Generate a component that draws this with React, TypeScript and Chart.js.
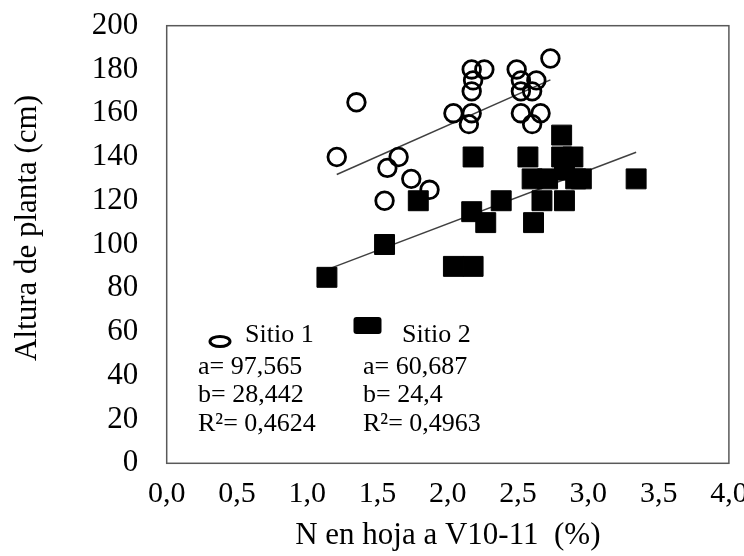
import React, { useEffect, useRef } from "react";
import { Chart, registerables } from "chart.js";

Chart.register(...registerables);

// ---- Data ----
const sitio1X = [1.35, 1.21, 1.65, 1.57, 1.74, 1.87, 1.55, 2.04, 2.17, 2.15, 2.17, 2.26, 2.18, 2.17, 2.49, 2.52, 2.63, 2.52, 2.6, 2.52, 2.66, 2.6, 2.73];
const sitio1Y = [165, 140, 140, 135, 130, 125, 120, 160, 160, 155, 180, 180, 175, 170, 180, 175, 175, 170, 170, 160, 160, 155, 185];

const sitio2X = [1.14, 1.55, 1.79, 2.04, 2.18, 2.18, 2.17, 2.27, 2.38, 2.57, 2.61, 2.6, 2.71, 2.67, 2.83, 2.81, 2.81, 2.89, 2.83, 2.91, 2.95, 3.34];
const sitio2Y = [85, 100, 120, 90, 90, 140, 115, 110, 120, 140, 110, 130, 130, 120, 120, 150, 140, 140, 134, 130, 130, 130];

const seriesLabels = ["Sitio 1", "Sitio 2"];
const coefA = [97.565, 60.687];
const coefB = [28.442, 24.4];
const coefR2 = [0.4624, 0.4963];

const xTicks = [0, 0.5, 1, 1.5, 2, 2.5, 3, 3.5, 4];
const yTicks = [0, 20, 40, 60, 80, 100, 120, 140, 160, 180, 200];

const xTitle = "N en hoja a V10-11  (%)";
const yTitle = "Altura de planta (cm)";

const FONT = "'Liberation Serif', 'Times New Roman', serif";

const fmt = (v: number) => String(v).replace(".", ",");

function toPoints(xs: number[], ys: number[]) {
  return xs.map((x, i) => ({ x, y: ys[i] }));
}

function trendPoints(xs: number[], a: number, b: number) {
  const lo = Math.min(...xs);
  const hi = Math.max(...xs);
  return [
    { x: lo, y: a + b * lo },
    { x: hi, y: a + b * hi },
  ];
}

const decorPlugin = {
  id: "decor",
  beforeDatasetsDraw(chart: any) {
    const { ctx, chartArea } = chart;
    const { left, top, right, bottom } = chartArea;
    ctx.save();
    ctx.strokeStyle = "#595959";
    ctx.lineWidth = 1.5;
    ctx.strokeRect(left, top, right - left, bottom - top);
    ctx.restore();
  },
  afterDraw(chart: any) {
    const { ctx } = chart;
    ctx.save();
    // y axis title
    ctx.fillStyle = "#000";
    ctx.font = `31px ${FONT}`;
    ctx.textAlign = "center";
    ctx.textBaseline = "middle";
    ctx.translate(28, 228);
    ctx.rotate(-Math.PI / 2);
    ctx.fillText(yTitle, 0, 0);
    ctx.restore();

    // legend / equations block
    ctx.save();
    ctx.fillStyle = "#000";
    ctx.strokeStyle = "#000";
    ctx.font = `26px ${FONT}`;
    ctx.textAlign = "left";
    ctx.textBaseline = "alphabetic";

    // Sitio 1 marker: hollow ellipse
    ctx.lineWidth = 3;
    ctx.beginPath();
    ctx.ellipse(220, 341.5, 10, 5, 0, 0, Math.PI * 2);
    ctx.stroke();
    // Sitio 2 marker: filled rounded rectangle
    ctx.beginPath();
    if ((ctx as any).roundRect) {
      (ctx as any).roundRect(353.5, 317, 28, 17, 3);
    } else {
      ctx.rect(353.5, 317, 28, 17);
    }
    ctx.fill();

    const colX = [198, 363];
    ctx.fillText(seriesLabels[0], 245, 341.5);
    ctx.fillText(seriesLabels[1], 402, 341.5);
    for (let i = 0; i < 2; i++) {
      ctx.fillText(`a= ${fmt(coefA[i])}`, colX[i], 373.5);
      ctx.fillText(`b= ${fmt(coefB[i])}`, colX[i], 402);
      ctx.fillText(`R\u00B2= ${fmt(coefR2[i])}`, colX[i], 430.5);
    }
    ctx.restore();
  },
};

export default function App() {
  const canvasRef = useRef<HTMLCanvasElement | null>(null);

  useEffect(() => {
    document.body.style.margin = "0";
    const canvas = canvasRef.current;
    if (!canvas) return;

    const chart = new Chart(canvas, {
      type: "scatter",
      data: {
        datasets: [
          {
            label: seriesLabels[0],
            data: toPoints(sitio1X, sitio1Y),
            pointStyle: "circle",
            pointRadius: 8.8,
            pointBorderWidth: 2.8,
            borderColor: "#000",
            backgroundColor: "rgba(0,0,0,0)",
            pointBackgroundColor: "rgba(0,0,0,0)",
            pointBorderColor: "#000",
            order: 0,
          },
          {
            label: seriesLabels[1],
            data: toPoints(sitio2X, sitio2Y),
            pointStyle: "rect",
            pointRadius: 14.1,
            pointBorderWidth: 1,
            borderColor: "#000",
            backgroundColor: "#000",
            pointBackgroundColor: "#000",
            pointBorderColor: "#000",
            order: 0,
          },
          {
            label: "Tendencia Sitio 1",
            data: trendPoints(sitio1X, coefA[0], coefB[0]),
            showLine: true,
            pointRadius: 0,
            borderColor: "#404040",
            borderWidth: 1.5,
            order: 1,
          },
          {
            label: "Tendencia Sitio 2",
            data: trendPoints(sitio2X, coefA[1], coefB[1]),
            showLine: true,
            pointRadius: 0,
            borderColor: "#404040",
            borderWidth: 1.5,
            order: 1,
          },
        ],
      },
      options: {
        responsive: false,
        animation: false,
        devicePixelRatio: 1,
        layout: { padding: { top: 25.7, right: 14, bottom: 0, left: 0 } },
        plugins: {
          legend: { display: false },
          tooltip: { enabled: false },
        },
        scales: {
          x: {
            type: "linear",
            min: xTicks[0],
            max: xTicks[xTicks.length - 1],
            grid: { display: false, drawTicks: false },
            border: { display: false },
            afterBuildTicks: (s: any) => {
              s.ticks = xTicks.map((v) => ({ value: v }));
            },
            ticks: {
              autoSkip: false,
              maxRotation: 0,
              padding: 13,
              color: "#000",
              font: { family: FONT, size: 30 },
              callback: (v: any) => Number(v).toFixed(1).replace(".", ","),
            },
            title: {
              display: true,
              text: xTitle,
              color: "#000",
              font: { family: FONT, size: 31 },
              padding: { top: 0, bottom: 2 },
            },
            afterFit: (s: any) => {
              s.height = 92.7;
              s.paddingLeft = 0;
              s.paddingRight = 0;
            },
          },
          y: {
            type: "linear",
            min: yTicks[0],
            max: yTicks[yTicks.length - 1],
            grid: { display: false, drawTicks: false },
            border: { display: false },
            afterBuildTicks: (s: any) => {
              s.ticks = yTicks.map((v) => ({ value: v }));
            },
            ticks: {
              padding: 28.4,
              color: "#000",
              font: { family: FONT, size: 31 },
              callback: (v: any) => String(v),
            },
            afterFit: (s: any) => {
              s.width = 166.7;
              s.paddingTop = 0;
              s.paddingBottom = 0;
            },
          },
        },
      },
      plugins: [decorPlugin],
    });

    return () => {
      chart.destroy();
    };
  }, []);

  return (
    <div style={{ width: 744, height: 556, position: "relative" }}>
      <canvas ref={canvasRef} width={744} height={556} />
    </div>
  );
}
